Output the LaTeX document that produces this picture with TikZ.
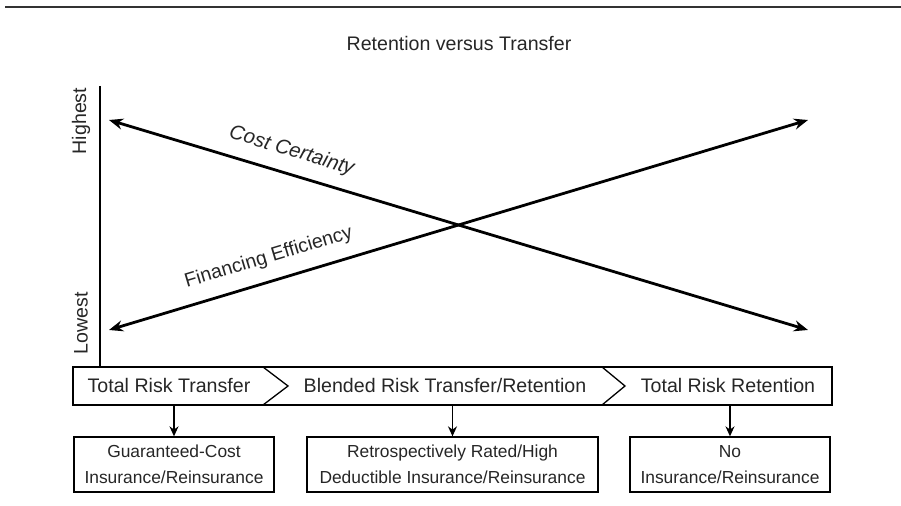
\documentclass[tikz,border=0pt]{standalone}
\usepackage{fontspec}
\setmainfont{Liberation Sans}
\usepackage{tikz}
\usetikzlibrary{positioning,calc,arrows.meta}

\begin{document}
\begin{tikzpicture}[x=0.5pt,y=-0.5pt,
    txt/.style={text=black!85,font=\fontsize{9.8}{11}\selectfont},
    seg/.style={txt,inner sep=0pt},
    outcome/.style={draw,line width=0.65pt,txt,font=\fontsize{8.7}{13}\selectfont,align=center,minimum height=27.5pt,inner sep=0pt},
    trend/.style={{Stealth[length=7pt,width=5.5pt]}-{Stealth[length=7pt,width=5.5pt]},line width=1.4pt},
    down/.style={-{Stealth[length=5pt,width=4.5pt]},line width=0.65pt}]
    \useasboundingbox (0,0) rectangle (901,506);
    \draw[line width=0.8pt,black!80] (5,7) -- (901,7);
    \node[txt] (title) at (459,44) {Retention versus Transfer};

    % scale on the left
    \coordinate (ax-top) at (100,86);
    \coordinate (band-top) at (100,367);
    \coordinate (band-bot) at (100,405);
    \draw[line width=0.75pt] (ax-top) -- (band-top);
    \node[txt,rotate=90] (high) at (81,121) {Highest};
    \node[txt,rotate=90] (low) at (81,323) {Lowest};

    % the two trends
    \coordinate (hi-l) at (109,120);
    \coordinate (lo-l) at (109,330);
    \coordinate (hi-r) at (808,120);
    \coordinate (lo-r) at (808,330);
    \draw[trend] (hi-l) -- node[txt,pos=0.252,above=2.5pt,sloped,font=\fontsize{10.2}{11}\selectfont\itshape] (cost) {Cost Certainty} (lo-r);
    \draw[trend] (lo-l) -- node[txt,pos=0.238,above=3pt,sloped] (fin) {Financing Efficiency} (hi-r);

    % band of approaches
    \draw[line width=0.65pt] (73,367) rectangle (832,405);
    \draw[line width=0.65pt] (263,367) -- (288,386) -- (263,405);
    \draw[line width=0.65pt] (602,367) -- (625,386) -- (602,405);
    \node[seg] (transfer) at (169,386) {Total Risk Transfer};
    \node[seg] (blended) at (445,386) {Blended Risk Transfer/Retention};
    \node[seg] (retain) at (728,386) {Total Risk Retention};

    % outcomes
    \node[outcome,minimum width=100pt] (guar) at (174,464.5) {Guaranteed-Cost\\Insurance/Reinsurance};
    \node[outcome,minimum width=145.5pt] (retro) at (452.5,464.5) {Retrospectively Rated/High\\Deductible Insurance/Reinsurance};
    \node[outcome,minimum width=100pt] (none) at (730,464.5) {No\\Insurance/Reinsurance};
    \draw[down] (guar.north |- band-bot) -- (guar.north);
    \draw[down] (retro.north |- band-bot) -- (retro.north);
    \draw[down] (none.north |- band-bot) -- (none.north);
\end{tikzpicture}
\end{document}
